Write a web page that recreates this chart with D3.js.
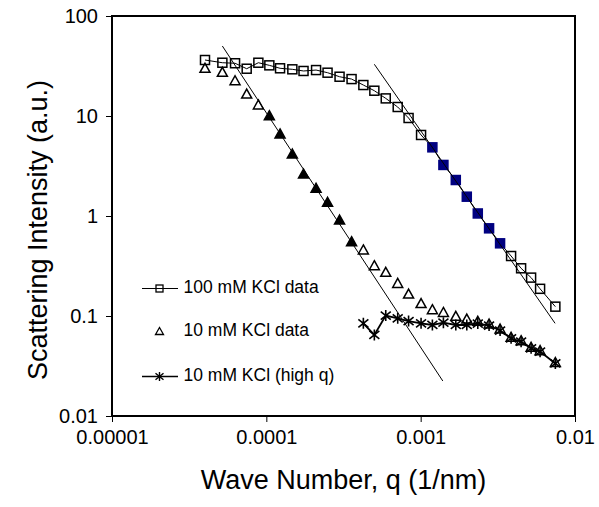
<!DOCTYPE html>
<html><head><meta charset="utf-8">
<script src="https://cdn.jsdelivr.net/npm/d3@7"></script>
<style>body{margin:0;background:#fff} text{font-family:Arial,"Liberation Sans",sans-serif;fill:#000}</style>
</head><body><svg id="c" width="599" height="507"></svg>
<script>
// ---- data ----
const q = [4.005e-5,5.19e-5,6.27e-5,7.46e-5,8.88e-5,1.046e-4,1.227e-4,1.474e-4,1.742e-4,2.10e-4,
  2.493e-4,2.982e-4,3.567e-4,4.253e-4,5.01e-4,5.94e-4,7.10e-4,8.35e-4,1.006e-3,1.191e-3,
  1.404e-3,1.689e-3,1.990e-3,2.345e-3,2.775e-3,3.27e-3,3.854e-3,4.475e-3,5.195e-3,5.94e-3,7.46e-3];
const intensity100 = [36.3,34.1,33.7,29.7,34.1,32.1,30.0,29.3,28.2,28.8,
  27.1,24.7,23.4,20.4,17.9,15.0,12.3,9.55,6.46,4.86,
  3.24,2.29,1.56,1.06,0.753,0.533,0.398,0.300,0.242,0.187,0.124];
const intensity10 = [29.3,26.7,22.0,16.2,12.6,9.84,6.46,4.07,2.57,1.85,
  1.34,0.891,0.541,0.447,0.311,0.267,0.207,0.162,0.130,0.113,
  0.106,0.097,0.091,0.0865,0.0813,0.0724,0.0598,0.0553,0.0475,0.044,0.0335];
const qHigh = [4.253e-4,5.01e-4,5.94e-4,7.10e-4,8.35e-4,1.006e-3,1.191e-3,1.404e-3,1.689e-3,
  1.990e-3,2.345e-3,2.775e-3,3.27e-3,3.854e-3,4.475e-3,5.195e-3,5.94e-3,7.46e-3];
const intensityHigh = [0.0845,0.0646,0.101,0.0948,0.0891,0.0845,0.0813,0.0857,0.0813,
  0.0813,0.0841,0.0803,0.0716,0.0598,0.0553,0.0475,0.044,0.0335];
// power-law fit lines (end points) and the q ranges of the fitted (filled) points
const fit100Q = [5.01e-4, 7.43e-3];
const fit100I = [32.9, 0.0845];
const fit10Q = [5.19e-5, 1.391e-3];
const fit10I = [50.1, 0.0224];
const fitted100Range = [1.19e-3, 3.3e-3];
const fitted10Range = [1.04e-4, 3.6e-4];
const xTickValues = [1e-5, 1e-4, 1e-3, 1e-2];
const xTickLabels = ["0.00001","0.0001","0.001","0.01"];
const yTickValues = [0.01, 0.1, 1, 10, 100];
const yTickLabels = ["0.01","0.1","1","10","100"];
const legendLabels = ["100 mM KCl data","10 mM KCl data","10 mM KCl (high q)"];
const xTitle = "Wave Number, q (1/nm)";
const yTitle = "Scattering Intensity (a.u.)";

// ---- chart ----
const svg = d3.select("#c");
const L = 112, R = 575, T = 16, B = 416;
const x = d3.scaleLog().domain([1e-5, 1e-2]).range([L, R]);
const y = d3.scaleLog().domain([0.01, 100]).range([B, T]);

const xAxis = svg.append("g").attr("transform", `translate(0,${B})`)
  .call(d3.axisBottom(x).tickValues(xTickValues).tickSize(6).tickPadding(8)
    .tickFormat((d,i) => xTickLabels[i]));
const yAxis = svg.append("g").attr("transform", `translate(${L},0)`)
  .call(d3.axisLeft(y).tickValues(yTickValues).tickSize(6).tickPadding(8)
    .tickFormat((d,i) => yTickLabels[i]));
[xAxis, yAxis].forEach(g => {
  g.select(".domain").remove();
  g.selectAll(".tick line").attr("stroke", "#000").attr("stroke-width", 1);
  g.selectAll(".tick text").style("font-size", "20px").attr("fill", "#000");
});

svg.append("rect").attr("x", L).attr("y", T).attr("width", R - L).attr("height", B - T)
  .attr("fill", "none").attr("stroke", "#000").attr("stroke-width", 2);

svg.append("defs").append("clipPath").attr("id", "pc")
  .append("rect").attr("x", L).attr("y", T).attr("width", R - L).attr("height", B - T);
const plot = svg.append("g").attr("clip-path", "url(#pc)");

const line = d3.line().x(d => x(d[0])).y(d => y(d[1]));
const d100 = q.map((v, i) => [v, intensity100[i]]);
const d10 = q.map((v, i) => [v, intensity10[i]]);
const dHigh = qHigh.map((v, i) => [v, intensityHigh[i]]);

const sq = 9;
const triPath = "M0,-6L5,3L-5,3Z";
const starPath = "M0,-5.5V5.5M-5,-4L5,4M-5,4L5,-4";

plot.append("path").attr("d", line(d100)).attr("fill", "none").attr("stroke", "#000").attr("stroke-width", 1);
plot.selectAll(".s100").data(d100).join("rect")
  .attr("x", d => x(d[0]) - sq / 2).attr("y", d => y(d[1]) - sq / 2)
  .attr("width", sq).attr("height", sq)
  .attr("fill", d => (d[0] >= fitted100Range[0] && d[0] <= fitted100Range[1]) ? "#000080" : "none")
  .attr("stroke", d => (d[0] >= fitted100Range[0] && d[0] <= fitted100Range[1]) ? "#000080" : "#000")
  .attr("stroke-width", 1.5);
plot.selectAll(".t10").data(d10).join("path")
  .attr("d", triPath)
  .attr("transform", d => `translate(${x(d[0])},${y(d[1])})`)
  .attr("fill", d => (d[0] >= fitted10Range[0] && d[0] <= fitted10Range[1]) ? "#000" : "none")
  .attr("stroke", "#000").attr("stroke-width", 1.5);
plot.append("path").attr("d", line(dHigh)).attr("fill", "none").attr("stroke", "#000").attr("stroke-width", 1.8);
plot.selectAll(".st").data(dHigh).join("path")
  .attr("d", starPath)
  .attr("transform", d => `translate(${x(d[0])},${y(d[1])})`)
  .attr("fill", "none").attr("stroke", "#000").attr("stroke-width", 1.6);
plot.append("path").attr("d", line(fit100Q.map((v, i) => [v, fit100I[i]])))
  .attr("fill", "none").attr("stroke", "#000").attr("stroke-width", 1);
plot.append("path").attr("d", line(fit10Q.map((v, i) => [v, fit10I[i]])))
  .attr("fill", "none").attr("stroke", "#000").attr("stroke-width", 1);

// legend
const lg = svg.append("g");
const rows = [288.5, 332, 376.5];
const mx = 159.5;
lg.append("line").attr("x1", 142).attr("x2", 178).attr("y1", rows[0]).attr("y2", rows[0]).attr("stroke", "#000").attr("stroke-width", 1);
lg.append("rect").attr("x", mx - 3.5).attr("y", rows[0] - 3.5).attr("width", 7).attr("height", 7)
  .attr("fill", "none").attr("stroke", "#000").attr("stroke-width", 1.3);
lg.append("path").attr("d", "M0,-4.5L4,2.5L-4,2.5Z").attr("transform", `translate(${mx},${rows[1]})`)
  .attr("fill", "none").attr("stroke", "#000").attr("stroke-width", 1.3);
lg.append("line").attr("x1", 142).attr("x2", 178).attr("y1", rows[2]).attr("y2", rows[2]).attr("stroke", "#000").attr("stroke-width", 1.6);
lg.append("path").attr("d", "M0,-4.5V4.5M-4,-3.3L4,3.3M-4,3.3L4,-3.3").attr("transform", `translate(${mx},${rows[2]})`)
  .attr("fill", "none").attr("stroke", "#000").attr("stroke-width", 1.4);
lg.selectAll("text.lt").data(legendLabels).join("text")
  .attr("x", 183.5).attr("y", (d, i) => rows[i] + 4)
  .style("font-size", "17.5px").text(d => d);

svg.append("text").attr("x", (L + R) / 2).attr("y", 489).attr("text-anchor", "middle")
  .style("font-size", "27px").text(xTitle);
svg.append("text").attr("transform", `translate(47,${(T + B) / 2 + 14}) rotate(-90)`)
  .attr("text-anchor", "middle").style("font-size", "27px").text(yTitle);
</script></body></html>
